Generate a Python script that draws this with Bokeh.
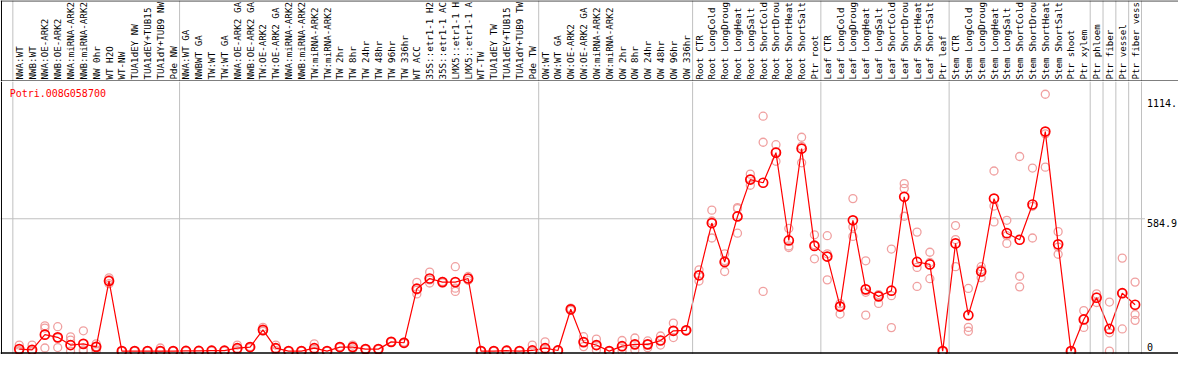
import numpy as np
from bokeh.plotting import figure
from bokeh.layouts import column
from bokeh.models import Range1d, Span, ColumnDataSource, Label
from bokeh.core.properties import value
from bokeh.embed import file_html
from bokeh.resources import INLINE

gene = "Potri.008G058700"

samples = [
    "NWA:WT", "NWB:WT", "NWA:OE-ARK2", "NWB:OE-ARK2", "NWA:miRNA-ARK2", "NWB:miRNA-ARK2",
    "NW 0hr", "WT H2O", "WT-NW", "TUA1dEY NW", "TUA1dEY+TUB15 NW", "TUA1dY+TUB9 NW", "Pde NW",
    "NWA:WT GA", "NWBWT GA", "TW:WT", "TW:WT GA", "NWA:OE-ARK2 GA", "NWB:OE-ARK2 GA",
    "TW:OE-ARK2", "TW:OE-ARK2 GA", "NWA:miRNA-ARK2", "NWB:miRNA-ARK2", "TW:miRNA-ARK2",
    "TW:miRNA-ARK2", "TW 2hr", "TW 8hr", "TW 24hr", "TW 48hr", "TW 96hr", "TW 336hr",
    "WT ACC", "35S::etr1-1 H2O", "35S::etr1-1 ACC", "LMX5::etr1-1 H2O", "LMX5::etr1-1 ACC",
    "WT-TW", "TUA1dEY TW", "TUA1dEY+TUB15 TW", "TUA1dY+TUB9 TW", "Pde TW",
    "OW:WT", "OW:WT GA", "OW:OE-ARK2", "OW:OE-ARK2 GA", "OW:miRNA-ARK2", "OW:miRNA-ARK2",
    "OW 2hr", "OW 8hr", "OW 24hr", "OW 48hr", "OW 96hr", "OW 336hr",
    "Root CTR", "Root LongCold", "Root LongDrought", "Root LongHeat", "Root LongSalt",
    "Root ShortCold", "Root ShortDrought", "Root ShortHeat", "Root ShortSalt", "Ptr root",
    "Leaf CTR", "Leaf LongCold", "Leaf LongDrought", "Leaf LongHeat", "Leaf LongSalt",
    "Leaf ShortCold", "Leaf ShortDrought", "Leaf ShortHeat", "Leaf ShortSalt", "Ptr leaf",
    "Stem CTR", "Stem LongCold", "Stem LongDrought", "Stem LongHeat", "Stem LongSalt",
    "Stem ShortCold", "Stem ShortDrought", "Stem ShortHeat", "Stem ShortSalt", "Ptr shoot",
    "Ptr xylem", "Ptr phloem", "Ptr fiber", "Ptr vessel", "Ptr fiber vessel",
]

means = [
    9, 6, 73, 61, 27, 32, 19, 310, 0, 0, 0, 0, 0,
    1, 1, 2, 2, 13, 18, 94, 13, 0, 0, 13, 0, 18, 18, 9, 9, 41, 37,
    276, 321, 305, 305, 321, 0, 0, 2, 0, 3,
    13, 3, 185, 40, 27, 0, 22, 30, 30, 47, 90, 92,
    335, 566, 394, 595, 758, 744, 877, 489, 895, 465,
    418, 197, 578, 273, 242, 267, 682, 394, 383, 0,
    476, 159, 352, 674, 521, 492, 648, 970, 472, 0,
    140, 236, 98, 256, 205,
]

replicates = [
    [27, 0, 2], [27, 0, 0], [112, 102, 14], [108, 59, 16], [63, 49, 0], [90, 6, 0],
    [32, 20, 6, 0], [324, 316, 298], [0, 0, 0], [0, 0, 0], [0, 0, 0], [14, 0, 0], [0, 0, 0],
    [2, 0, 0], [2, 1, 0], [4, 2, 0], [3, 2, 0], [27, 10, 2], [20, 18, 15],
    [105, 90, 88], [27, 12, 2], [0, 0, 0], [2, 0, 0], [32, 8, 0],
    [0, 0, 0], [20, 18, 16], [27, 18, 10], [10, 9, 8], [10, 9, 8], [42, 41, 40], [40, 37, 34],
    [304, 270, 253], [349, 315, 301], [308, 305, 302], [373, 278, 264], [330, 321, 313],
    [3, 0, 0], [0, 0, 0], [3, 2, 1], [0, 0, 0], [27, 0, 0],
    [41, 10, 0], [4, 3, 2], [190, 185, 180], [64, 40, 20], [53, 25, 5], [0, 0, 0],
    [47, 20, 0], [58, 30, 5], [45, 30, 15], [67, 47, 27], [124, 90, 60], [93, 92, 91],
    [359, 335, 310], [623, 575, 500], [430, 400, 352], [634, 630, 521], [782, 760, 733],
    [1038, 923, 264], [912, 880, 839], [542, 465, 458], [945, 905, 832], [514, 470, 408],
    [510, 430, 315], [210, 200, 164], [674, 549, 507], [399, 260, 159], [250, 245, 211],
    [451, 245, 104], [740, 719, 596], [526, 370, 286], [437, 392, 320], [0, 0, 0],
    [555, 493, 373], [277, 105, 88], [373, 360, 324], [796, 641, 571], [578, 510, 476],
    [860, 331, 284], [809, 640, 500], [1135, 960, 813], [528, 460, 428], [0, 0, 0],
    [179, 140, 105], [253, 240, 215], [217, 81, 0], [411, 256, 98], [305, 162, 136],
]

group_ends = [0, 13, 41, 53, 63, 73, 84, 85, 86, 87, 88]
y_ticks = [1114, 584.9, 0]
y_tick_labels = ["1114.", "584.9", "0"]

# the reference's label strip shows only the first 14 characters of each name
LABEL_CHARS = 14
shown_labels = [s[:LABEL_CHARS].rstrip() for s in samples]

FONT = "DejaVu Sans Mono"
GRAY = "#c0c0c0"
W, H = 1178, 354
H_TOP = 81
H_BOT = H - H_TOP

n = len(samples)
xs = list(range(1, n + 1))
xr = Range1d(-0.4615, 91.385)

# ---------- label strip ----------
top = figure(width=W, height=H_TOP, x_range=xr, y_range=Range1d(0, H_TOP),
             output_backend="svg", toolbar_location=None, min_border=0,
             x_axis_type=None, y_axis_type=None)
top.grid.visible = False
top.outline_line_color = None
top.text(x=xs, y=[2] * n, text=shown_labels, angle=np.pi / 2, text_align="left",
         text_baseline="middle", text_font=value(FONT), text_font_size="9.2px",
         text_color="black")
for e in group_ends:
    top.add_layout(Span(location=e + 0.5, dimension="height", line_color=GRAY, line_width=1))
top.add_layout(Span(location=-0.385, dimension="height", line_color="black", line_width=1))
top.add_layout(Span(location=H_TOP - 0.4, dimension="width", line_color="black", line_width=1))
top.add_layout(Span(location=0.5, dimension="width", line_color="black", line_width=1.2))

# ---------- data panel ----------
p = figure(width=W, height=H_BOT, x_range=xr, y_range=Range1d(-14.8, 1191.3),
           output_backend="svg", toolbar_location=None, min_border=0,
           x_axis_type=None, y_axis_type=None)
p.grid.visible = False
p.outline_line_color = None

for e in group_ends:
    p.add_layout(Span(location=e + 0.5, dimension="height", line_color=GRAY, line_width=1))
p.add_layout(Span(location=-0.385, dimension="height", line_color="black", line_width=1))
p.add_layout(Span(location=-8.5, dimension="width", line_color="black", line_width=1.5))

# horizontal reference line at the middle tick
p.segment(x0=[xr.start], x1=[88.77], y0=[y_ticks[1]], y1=[y_ticks[1]],
          line_color=GRAY, line_width=1)

rx, ry = [], []
for i, vals in enumerate(replicates):
    for v in vals:
        rx.append(xs[i])
        ry.append(v)
p.scatter(x=rx, y=ry, marker="circle", size=8, fill_color=None,
          line_color="#f0a0a0", line_width=1.3)

src = ColumnDataSource(dict(x=xs, y=means))
p.line("x", "y", source=src, line_color="red", line_width=1.2)
p.scatter("x", "y", source=src, marker="circle", size=9, fill_color=None,
          line_color="red", line_width=1.7)

p.text(x=[88.92, 88.92], y=y_ticks[:2], text=y_tick_labels[:2], text_align="left",
       text_baseline="top", text_font=value(FONT), text_font_size="10px",
       text_color="black")
p.text(x=[88.92], y=y_ticks[2:], text=y_tick_labels[2:], text_align="left",
       text_baseline="bottom", text_font=value(FONT), text_font_size="10px",
       text_color="black")

p.add_layout(Label(x=0.25, y=1140, text=gene, text_baseline="middle",
                   text_font=FONT, text_font_size="10px", text_color="red"))

layout = column(top, p, spacing=0)
open("out.html", "w").write(file_html(layout, INLINE))
